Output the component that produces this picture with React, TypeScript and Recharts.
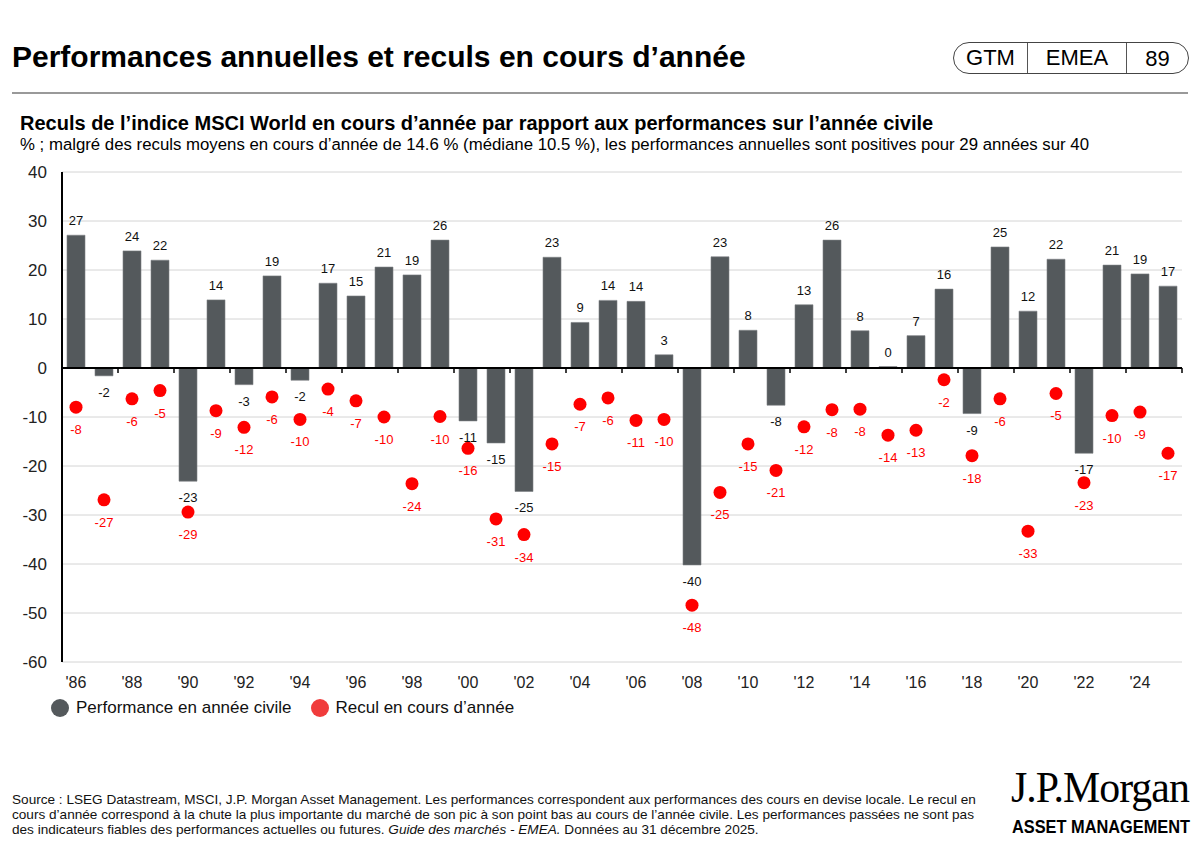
import React from 'react';
import {
  ComposedChart,
  Bar,
  Line,
  XAxis,
  YAxis,
  CartesianGrid,
  ReferenceLine,
} from 'recharts';

// Calendar years shown on the category axis
const years = [
  1986, 1987, 1988, 1989, 1990, 1991, 1992, 1993, 1994, 1995,
  1996, 1997, 1998, 1999, 2000, 2001, 2002, 2003, 2004, 2005,
  2006, 2007, 2008, 2009, 2010, 2011, 2012, 2013, 2014, 2015,
  2016, 2017, 2018, 2019, 2020, 2021, 2022, 2023, 2024, 2025,
];

// Performance en année civile (%)
const calendarReturns = [
  27.1, -1.6, 23.9, 22.0, -23.1, 13.9, -3.4, 18.8, -2.5, 17.3,
  14.7, 20.6, 19.0, 26.1, -10.8, -15.3, -25.2, 22.6, 9.3, 13.8,
  13.6, 2.7, -40.2, 22.7, 7.7, -7.6, 12.9, 26.1, 7.6, 0.3,
  6.6, 16.1, -9.3, 24.7, 11.6, 22.2, -17.4, 21.0, 19.2, 16.7,
];

// Recul en cours d'année (%)
const intraYearDeclines = [
  -8.0, -26.9, -6.3, -4.6, -29.4, -8.7, -12.1, -5.9, -10.5, -4.3,
  -6.7, -10.0, -23.6, -9.9, -16.4, -30.8, -34.0, -15.5, -7.4, -6.1,
  -10.7, -10.5, -48.4, -25.4, -15.5, -20.9, -12.0, -8.5, -8.4, -13.7,
  -12.7, -2.4, -17.9, -6.3, -33.3, -5.2, -23.4, -9.7, -9.0, -17.4,
];

const yTicks = [40, 30, 20, 10, 0, -10, -20, -30, -40, -50, -60];

const BAR_GREY = '#54595c';
const DOT_RED = '#ff0000';
const FONT = '"Liberation Sans", Arial, Helvetica, sans-serif';

const data = years.map((year, i) => ({
  year,
  perf: calendarReturns[i],
  drop: intraYearDeclines[i],
}));

const fmtYear = (y: number) => `'${String(y).slice(2)}`;

const BarValueLabel = (props: any) => {
  const { x, y, width, height, value } = props;
  if (value == null) return null;
  const top = Math.min(y, y + height);
  const bottom = Math.max(y, y + height);
  const ty = value >= 0 ? top - 10 : bottom + 21;
  return (
    <text x={x + width / 2} y={ty} textAnchor="middle" fontSize={13} fill="#111" fontFamily={FONT}>
      {Math.round(value)}
    </text>
  );
};

const DeclineDot = (props: any) => {
  const { cx, cy, value, index } = props;
  if (cx == null || cy == null) return <g key={`dd-${index}`} />;
  return (
    <g key={`dd-${index}`}>
      <circle cx={cx} cy={cy} r={6.5} fill={DOT_RED} />
      <text x={cx} y={cy + 27} textAnchor="middle" fontSize={13} fill={DOT_RED} fontFamily={FONT}>
        {Math.round(value)}
      </text>
    </g>
  );
};

// zero line with small marks every two years, on the band edges
const ZeroAxis = (props: any) => {
  const { x1, y1, x2 } = props;
  const band = (x2 - x1) / years.length;
  const marks: number[] = [];
  for (let i = 0; i <= years.length; i += 2) marks.push(x1 + i * band);
  return (
    <g>
      <line x1={x1} y1={y1} x2={x2} y2={y1} stroke="#000" strokeWidth={2} />
      {marks.map((mx, i) => (
        <line key={i} x1={mx} y1={y1} x2={mx} y2={y1 + 5} stroke="#000" strokeWidth={1.5} />
      ))}
    </g>
  );
};

export default function App() {
  return (
    <div
      style={{
        position: 'absolute',
        left: 0,
        top: 0,
        width: 1200,
        height: 858,
        background: '#fff',
        fontFamily: FONT,
        color: '#000',
        overflow: 'hidden',
      }}
    >
      {/* header */}
      <div style={{ position: 'absolute', left: 12, top: 42, fontSize: 30, lineHeight: '30px', fontWeight: 700, whiteSpace: 'nowrap' }}>
        Performances annuelles et reculs en cours d’année
      </div>
      <div
        style={{
          position: 'absolute',
          left: 953,
          top: 42,
          width: 236,
          height: 32,
          boxSizing: 'border-box',
          border: '1.5px solid #444',
          borderRadius: 16,
          display: 'flex',
          fontSize: 22,
          alignItems: 'center',
        }}
      >
        <div style={{ width: 73, textAlign: 'center', borderRight: '1px solid #555', height: '100%', lineHeight: '29px' }}>GTM</div>
        <div style={{ width: 98, textAlign: 'center', borderRight: '1px solid #555', height: '100%', lineHeight: '29px' }}>EMEA</div>
        <div style={{ flex: 1, textAlign: 'center', lineHeight: '29px' }}>89</div>
      </div>
      <div style={{ position: 'absolute', left: 12, top: 92, width: 1176, height: 2, background: '#999' }} />

      <div style={{ position: 'absolute', left: 20, top: 113, fontSize: 20, lineHeight: '20px', fontWeight: 700, whiteSpace: 'nowrap' }}>
        Reculs de l’indice MSCI World en cours d’année par rapport aux performances sur l’année civile
      </div>
      <div style={{ position: 'absolute', left: 20, top: 136, fontSize: 16.8, lineHeight: '17px', whiteSpace: 'nowrap' }}>
        % ; malgré des reculs moyens en cours d’année de 14.6 % (médiane 10.5 %), les performances annuelles sont positives pour 29 années sur 40
      </div>

      {/* chart */}
      <div style={{ position: 'absolute', left: 0, top: 150 }}>
        <ComposedChart
          width={1200}
          height={560}
          data={data}
          margin={{ top: 22, right: 18, left: 0, bottom: 18 }}
          barCategoryGap="36%"
        >
          <CartesianGrid horizontal vertical={false} stroke="#d4d4d4" strokeWidth={1} />
          <XAxis
            dataKey="year"
            interval={1}
            tickFormatter={fmtYear}
            axisLine={false}
            tickLine={false}
            tickMargin={9}
            height={30}
            tick={{ fontSize: 16, fill: '#222', fontFamily: FONT }}
          />
          <YAxis
            domain={[-60, 40]}
            ticks={yTicks}
            interval={0}
            width={62}
            tickLine={false}
            tickMargin={9}
            axisLine={{ stroke: '#000', strokeWidth: 2 }}
            tick={{ fontSize: 17, fill: '#222', fontFamily: FONT }}
          />
          <Bar
            dataKey="perf"
            fill={BAR_GREY}
            stroke="#7d8184"
            strokeWidth={0.6}
            barSize={18}
            isAnimationActive={false}
            label={BarValueLabel}
          />
          <ReferenceLine y={0} shape={ZeroAxis} />
          <Line
            dataKey="drop"
            stroke="none"
            dot={DeclineDot}
            activeDot={false}
            isAnimationActive={false}
          />
        </ComposedChart>
      </div>

      {/* legend */}
      <div style={{ position: 'absolute', left: 51, top: 698, display: 'flex', alignItems: 'center', fontSize: 17, whiteSpace: 'nowrap', color: '#111' }}>
        <span style={{ width: 18, height: 18, borderRadius: 9, background: BAR_GREY, display: 'inline-block', marginRight: 7 }} />
        <span style={{ marginRight: 20 }}>Performance en année civile</span>
        <span style={{ width: 18, height: 18, borderRadius: 9, background: '#f03c3c', display: 'inline-block', marginRight: 6 }} />
        <span>Recul en cours d’année</span>
      </div>

      {/* footer */}
      <div style={{ position: 'absolute', left: 12, top: 792, fontSize: 13.6, lineHeight: '15px', whiteSpace: 'nowrap', color: '#111' }}>
        Source : LSEG Datastream, MSCI, J.P. Morgan Asset Management. Les performances correspondent aux performances des cours en devise locale. Le recul en
        <br />
        cours d’année correspond à la chute la plus importante du marché de son pic à son point bas au cours de l’année civile. Les performances passées ne sont pas
        <br />
        des indicateurs fiables des performances actuelles ou futures. <i>Guide des marchés - EMEA.</i> Données au 31 décembre 2025.
      </div>

      <div style={{ position: 'absolute', left: 1011, top: 766, fontFamily: '"Liberation Serif", "Times New Roman", serif', fontSize: 44, lineHeight: '44px', whiteSpace: 'nowrap', transform: 'scaleX(0.95)', transformOrigin: 'left top', letterSpacing: -1 }}>
        J.P.Morgan
      </div>
      <div style={{ position: 'absolute', left: 1012, top: 817, fontSize: 19, lineHeight: '19px', fontWeight: 700, whiteSpace: 'nowrap', transform: 'scaleX(0.86)', transformOrigin: 'left top' }}>
        ASSET MANAGEMENT
      </div>
    </div>
  );
}
